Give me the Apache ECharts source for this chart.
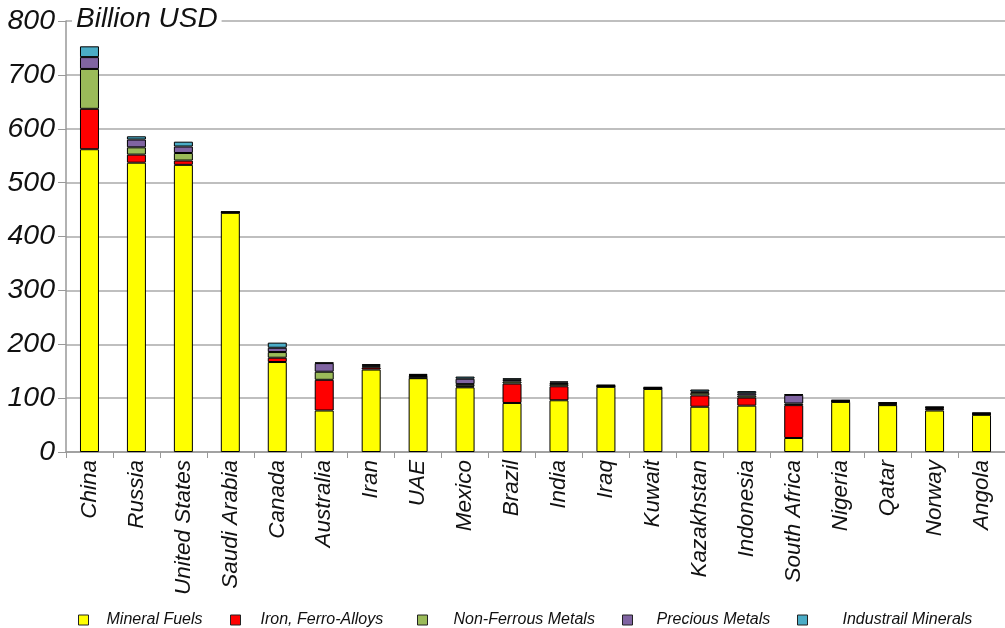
<!DOCTYPE html>
<html>
<head>
<meta charset="utf-8">
<script src="https://cdn.jsdelivr.net/npm/echarts@6/dist/echarts.min.js"></script>
<style>html,body{margin:0;padding:0;background:#fff}#c{width:1005px;height:628px}</style>
</head>
<body>
<div id="c"></div>
<script>
var categories = ['China','Russia','United States','Saudi Arabia','Canada','Australia','Iran','UAE','Mexico','Brazil','India','Iraq','Kuwait','Kazakhstan','Indonesia','South Africa','Nigeria','Qatar','Norway','Angola'];
var seriesNames = ['Mineral Fuels','Iron, Ferro-Alloys','Non-Ferrous Metals','Precious Metals','Industrail Minerals'];
var mineralFuels   = [562,537,533,444,167,77,153,137,120,91,96,121,117,84,86,26,93,87,77,69];
var ironFerro      = [75,15,8,0.5,8,57,4,1,2,36,26,0.5,0.5,21,15,61,0.5,1,3,1];
var nonFerrous     = [74,13.5,14,0.5,10.5,15,2,3,4,4,4,1,1,5,4,3,1,2,2,1];
var preciousMetals = [22,14.5,12,0.5,8,16,2,2,10,3,3,1,1,2,4,16,1,1,1,1];
var industrialMin  = [20,6,9,0.5,9.5,1,2,2,4,3,2,1,1,4,4,1,1,1,1,1];
var yTicks = [0,100,200,300,400,500,600,700,800];
var colors = ['#FFFF00','#FF0000','#9BBB59','#8064A2','#4BACC6'];
var values = [mineralFuels, ironFerro, nonFerrous, preciousMetals, industrialMin];

var chart = echarts.init(document.getElementById('c'));
var legendLefts = [78, 230, 417, 622, 797];
var legendGaps = [18, 20, 26, 24, 35];
var series = seriesNames.map(function(n, i){
  return {
    name: n, type: 'bar', stack: 'total', barWidth: 19,
    data: values[i],
    itemStyle: {color: colors[i], borderColor: '#000', borderWidth: 1},
    emphasis: {disabled: true}
  };
});
chart.setOption({
  animation: false,
  title: {
    text: 'Billion USD', left: 72, top: 5,
    backgroundColor: '#fff', padding: [0, 4, 0, 4],
    textStyle: {fontFamily: 'Liberation Sans', fontStyle: 'italic', fontWeight: 'normal', fontSize: 28, color: '#111'}
  },
  legend: seriesNames.map(function(n, i){
    return {
      data: [n], left: legendLefts[i], top: 612, itemWidth: 10, itemHeight: 10, itemGap: 0,
      padding: 0, icon: 'rect', selectedMode: false,
      itemStyle: {borderColor: '#222', borderWidth: 1},
      textStyle: {fontFamily: 'Liberation Sans', fontStyle: 'italic', fontSize: 16, color: '#111', padding: [0,0,0,legendGaps[i]-5]}
    };
  }),
  grid: {left: 66, right: -9, top: 21, bottom: 176, containLabel: false},
  xAxis: {
    type: 'category', data: categories,
    axisLine: {lineStyle: {color: '#999', width: 1.5}},
    axisTick: {show: true, alignWithLabel: false, length: 6, lineStyle: {color: '#999'}},
    axisLabel: {rotate: 90, interval: 0, margin: 8, fontFamily: 'Liberation Sans', fontStyle: 'italic', fontSize: 22.5, color: '#111'}
  },
  yAxis: {
    type: 'value', min: 0, max: 800, interval: 100,
    axisLine: {show: true, lineStyle: {color: '#999', width: 1.5}},
    axisTick: {show: true, length: 8, lineStyle: {color: '#999'}},
    splitLine: {lineStyle: {color: '#aaa', width: 1.5}},
    axisLabel: {
      margin: 11, fontFamily: 'Liberation Sans', fontStyle: 'italic', fontWeight: 'normal', fontSize: 28.5, color: '#111',
      formatter: function(v){ return yTicks.indexOf(v) >= 0 ? String(v) : ''; }
    }
  },
  series: series
});
</script>
</body>
</html>
